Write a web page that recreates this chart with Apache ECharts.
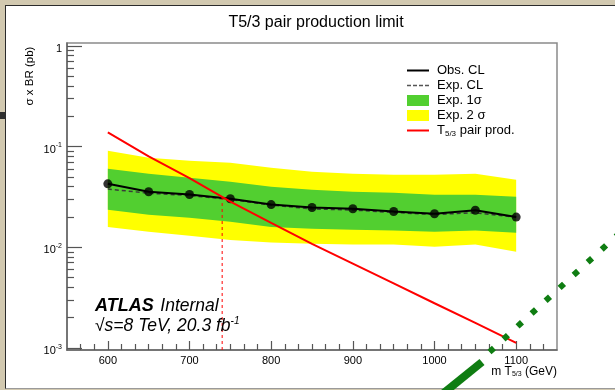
<!DOCTYPE html>
<html>
<head>
<meta charset="utf-8">
<script src="https://cdn.jsdelivr.net/npm/echarts@6/dist/echarts.min.js"></script>
<style>
html, body { margin: 0; padding: 0; }
#wrap { position: relative; width: 615px; height: 390px; background: #d2c9b0; overflow: hidden; }
#panel { position: absolute; left: 5px; top: 5px; width: 610px; height: 382px; background: #fff;
         border-top: 1px solid #2b2b2b; border-left: 1px solid #2b2b2b; border-bottom: 1px solid #9a9a9a; }
#tab { position: absolute; left: 0; top: 112px; width: 5px; height: 7px; background: #2e2e2e; }
#chart { position: absolute; left: 0; top: 0; width: 615px; height: 390px; }
</style>
</head>
<body>
<div id="wrap">
  <div id="panel"></div>
  <div id="tab"></div>
  <div id="chart"></div>
</div>
<script>
// mass points (GeV)
var masses = [600, 650, 700, 750, 800, 850, 900, 950, 1000, 1050, 1100];
// 95% CL upper limits on sigma x BR (pb)
var obsLimit = [0.0426, 0.0355, 0.0334, 0.0303, 0.0265, 0.0248, 0.0241, 0.0226, 0.0215, 0.0233, 0.0199];
var expLimit = [0.0378, 0.0344, 0.0326, 0.0298, 0.0262, 0.0240, 0.0234, 0.0221, 0.0211, 0.0220, 0.0198];
var exp1Up   = [0.0601, 0.0536, 0.0489, 0.0446, 0.0398, 0.0372, 0.0355, 0.0347, 0.0331, 0.0331, 0.0317];
var exp1Down = [0.0235, 0.0210, 0.0196, 0.0179, 0.0159, 0.0152, 0.0149, 0.0146, 0.0142, 0.0146, 0.0139];
var exp2Up   = [0.0906, 0.0772, 0.0721, 0.0689, 0.0614, 0.0561, 0.0536, 0.0524, 0.0524, 0.0536, 0.0467];
var exp2Down = [0.0159, 0.0142, 0.0130, 0.0118, 0.0111, 0.0108, 0.0106, 0.0106, 0.0101, 0.0106, 0.0090];
// theory cross section
var theoryXsec = [0.138, 0.0798, 0.0486, 0.0283, 0.0174, 0.0108, 0.00687, 0.00437, 0.00277, 0.00177, 0.00112];
// mass limit (vertical dashed line)
var massLimit = 740;
var xsecAtLimit = 0.031;
// axis ticks
var xTicks = [600, 700, 800, 900, 1000, 1100];
var yTicks = [0.001, 0.01, 0.1, 1];

var FONT = '"Liberation Sans", Arial, Helvetica, sans-serif';

// minor ticks like ROOT: 2..9 per decade, 6 per 100 GeV
var yMinor = [];
[0.001, 0.01, 0.1].forEach(function (d) {
    for (var k = 2; k <= 9; k++) yMinor.push(+(d * k).toPrecision(3));
});
var xMinor = [];
for (var i = 1; i < 36; i++) {
    if (i % 6 !== 3) xMinor.push(550 + i * 100 / 6);
}

function pairs(ys) {
    return masses.map(function (m, i) { return [m, ys[i]]; });
}

function band(name, up, down, color) {
    return {
        name: name,
        type: 'custom',
        coordinateSystem: 'cartesian2d',
        silent: true,
        z: 1,
        itemStyle: { color: color },
        data: [[masses[0], up[0]]],
        renderItem: function (params, api) {
            var pts = [];
            for (var i = 0; i < masses.length; i++) pts.push(api.coord([masses[i], up[i]]));
            for (var j = masses.length - 1; j >= 0; j--) pts.push(api.coord([masses[j], down[j]]));
            return { type: 'polygon', shape: { points: pts }, style: { fill: color } };
        }
    };
}

var chart = echarts.init(document.getElementById('chart'));

var tickLine = { color: '#555', width: 1.2 };
// legend icons drawn as plain line pieces (no marker)
var solidIcon = 'path://M0,0h22v2h-22z';
var dashIcon = 'path://M0,0h4v1.6h-4z M6,0h4v1.6h-4z M12,0h4v1.6h-4z M18,0h4v1.6h-4z';

var option = {
    animation: false,
    textStyle: { fontFamily: FONT },
    title: {
        text: 'T5/3 pair production limit',
        left: 311,
        textAlign: 'center',
        top: 10,
        textStyle: { fontSize: 16, fontWeight: 'normal', color: '#000', fontFamily: FONT }
    },
    grid: {
        left: 67, right: 58, top: 43, bottom: 40,
        show: true, borderColor: '#8a8a8a', borderWidth: 1.5
    },
    legend: {
        orient: 'vertical',
        left: 407, top: 64, padding: 0,
        itemWidth: 22, itemHeight: 11, itemGap: 2,
        selectedMode: false,
        data: [
            { name: 'Obs. CL', icon: solidIcon },
            { name: 'Exp. CL', icon: dashIcon },
            { name: 'Exp. 1σ', icon: 'rect' },
            { name: 'Exp. 2 σ', icon: 'rect' },
            { name: 'T5/3 pair prod.', icon: solidIcon }
        ],
        formatter: function (name) {
            return name === 'T5/3 pair prod.' ? 'T{sub|5/3} pair prod.' : name;
        },
        textStyle: {
            fontSize: 13, color: '#000', fontFamily: FONT, lineHeight: 13, padding: [0, 0, 0, 3],
            rich: { sub: { fontSize: 8, fontFamily: FONT, padding: [7, 0, 0, 0] } }
        }
    },
    xAxis: [{
        type: 'value', min: 550, max: 1150,
        axisLine: { lineStyle: { color: '#666', width: 1.5 } },
        axisTick: { inside: true, length: 9, customValues: xTicks, lineStyle: tickLine },
        axisLabel: {
            customValues: xTicks, fontSize: 11, color: '#000', margin: 5, fontFamily: FONT,
            formatter: function (v) { return String(v); }
        },
        splitLine: { show: false },
        name: 'm T{sub|5/3} (GeV)',
        nameLocation: 'end',
        nameGap: 0,
        nameTextStyle: {
            align: 'right', verticalAlign: 'top', padding: [16, 0, 0, 0],
            fontSize: 12, color: '#000', fontFamily: FONT,
            rich: { sub: { fontSize: 7, fontFamily: FONT, padding: [5, 0, 0, 0] } }
        }
    }, {
        type: 'value', min: 550, max: 1150, position: 'bottom',
        axisLine: { show: false }, axisLabel: { show: false }, splitLine: { show: false },
        axisTick: { inside: true, length: 6, customValues: xMinor, lineStyle: tickLine }
    }],
    yAxis: [{
        type: 'log', min: 0.00095, max: 1.07,
        axisLine: { lineStyle: { color: '#666', width: 1.5 } },
        axisTick: { inside: true, length: 15, customValues: yTicks, lineStyle: tickLine },
        axisLabel: {
            customValues: yTicks, color: '#000', margin: 5, fontSize: 11, fontFamily: FONT,
            padding: [6, 0, 0, 0],
            formatter: function (v) {
                if (v === 1) return '1';
                return '10{sup|' + Math.round(Math.log10(v)) + '}';
            },
            rich: { sup: { fontSize: 7, fontFamily: FONT, padding: [0, 0, 8, 0] } }
        },
        splitLine: { show: false }
    }, {
        type: 'log', min: 0.00095, max: 1.07, position: 'left',
        axisLine: { show: false }, axisLabel: { show: false }, splitLine: { show: false },
        axisTick: { inside: true, length: 7, customValues: yMinor, lineStyle: tickLine }
    }],
    series: [
        band('Exp. 2 σ', exp2Up, exp2Down, '#ffff00'),
        band('Exp. 1σ', exp1Up, exp1Down, '#52cf30'),
        {
            name: 'Exp. CL', type: 'line', data: pairs(expLimit), symbol: 'none', z: 3,
            lineStyle: { color: '#3a3a3a', width: 1.5, type: [4, 3] }, itemStyle: { color: '#555' }
        },
        {
            name: 'Obs. CL', type: 'line', data: pairs(obsLimit), symbol: 'none', z: 4,
            lineStyle: { color: '#000', width: 2 }, itemStyle: { color: '#000' }
        },
        {
            name: 'obs points', type: 'scatter', data: pairs(obsLimit), symbol: 'circle', symbolSize: 9, z: 5,
            itemStyle: { color: '#000' }
        },
        {
            name: 'T5/3 pair prod.', type: 'line', data: pairs(theoryXsec), symbol: 'none', z: 6,
            lineStyle: { color: '#ff0000', width: 2 }, itemStyle: { color: '#ff0000' }
        },
        {
            name: 'limit', type: 'line', data: [[massLimit, 0.00095], [massLimit, xsecAtLimit]], symbol: 'none', z: 6,
            lineStyle: { color: '#ff0000', width: 1, type: [3, 3] }
        }
    ],
    graphic: [
        {
            type: 'text', x: 30, y: 76, rotation: Math.PI / 2,
            style: { text: 'σ x BR (pb)', fontSize: 11.5, fill: '#000', fontFamily: FONT, align: 'center', verticalAlign: 'middle' }
        },
        {
            type: 'text', x: 95, y: 297, z: 10,
            style: {
                text: '{b|ATLAS}  {i|Internal}\n{i|√s=8 TeV, 20.3 fb}{s|-1}',
                fill: '#000', fontFamily: FONT,
                rich: {
                    b: { fontSize: 18, fontStyle: 'italic', fontWeight: 'bold', fontFamily: FONT, lineHeight: 19 },
                    i: { fontSize: 17.5, fontStyle: 'italic', fontFamily: FONT, lineHeight: 19 },
                    s: { fontSize: 10, fontStyle: 'italic', fontFamily: FONT, padding: [0, 0, 10, 0] }
                }
            }
        },
        {
            // green dotted annotation drawn over the screenshot
            type: 'line', z: 100, silent: true,
            shape: { x1: 489.5, y1: 352, x2: 640, y2: 214.4 },
            style: { stroke: '#0f7d12', lineWidth: 6, lineDash: [6, 13], lineCap: 'butt' }
        },
        {
            type: 'line', z: 100, silent: true,
            shape: { x1: 440, y1: 396, x2: 482, y2: 362 },
            style: { stroke: '#0f7d12', lineWidth: 8, lineCap: 'butt' }
        }
    ]
};

chart.setOption(option);
</script>
</body>
</html>
